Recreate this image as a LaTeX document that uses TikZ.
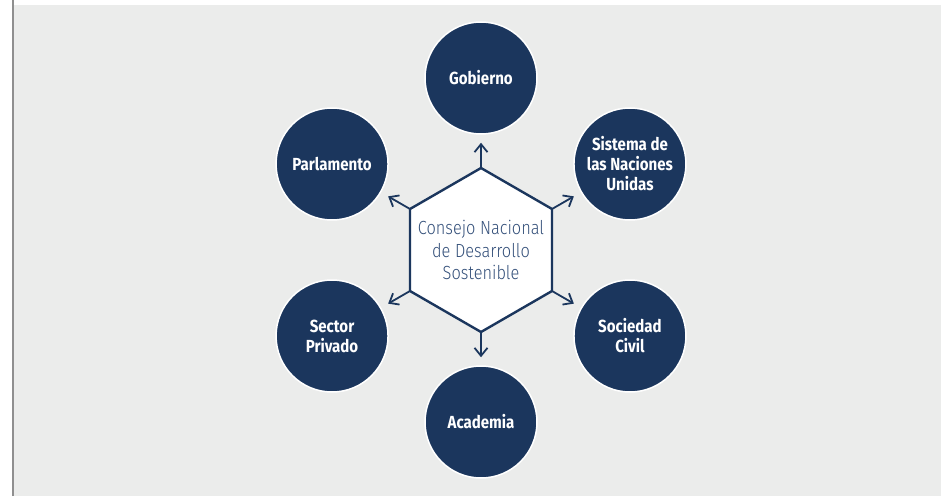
\documentclass[tikz,border=0pt]{standalone}
\usepackage{fontspec}
\newfontfamily\condfont{Fira Sans}[FakeStretch=0.86]
\newfontfamily\condlightfont{Fira Sans Light}[FakeStretch=0.86]
\usetikzlibrary{shapes.geometric,arrows.meta}
\definecolor{navy}{HTML}{1B365D}
\definecolor{councilblue}{HTML}{34507A}
\definecolor{panel}{HTML}{EBECEB}
\definecolor{rule}{HTML}{8F8F8F}
\tikzset{
  actor/.style={circle,fill=navy,draw=white,line width=1.5pt,minimum size=112pt,
    inner sep=0pt,align=center,text=white,
    font=\condfont\bfseries\fontsize{17.5}{20}\selectfont},
  council/.style={regular polygon,regular polygon sides=6,shape border rotate=30,
    minimum size=164pt,inner sep=0pt,outer sep=0pt,fill=white,draw=navy,
    line width=2.4pt},
  councillabel/.style={align=center,text=councilblue,inner sep=0pt,
    font=\condlightfont\fontsize{19}{22.5}\selectfont},
  link/.style={-{Straight Barb[length=8pt,width=13pt]},draw=navy,
    line width=1.8pt,shorten >=8pt}
}
\begin{document}
\begin{tikzpicture}[x=1pt,y=1pt]
  \useasboundingbox (0,0) rectangle (941,496);
  \fill[panel] (14,0) rectangle (941,491);
  \draw[rule,line width=1.6pt] (13,0) -- (13,496);
  \begin{scope}[shift={(481,246)}]
    \node[council] (cnds) at (0,0) {};
    \node[councillabel] (cndstext) at (cnds.center) {Consejo Nacional\\de Desarrollo\\Sostenible};
    \draw
      (90:172) node[actor] (gob){Gobierno}
      (30:172) node[actor] (onu){Sistema de\\las Naciones\\Unidas}
      (-30:172) node[actor] (civ){Sociedad\\Civil}
      (-90:172) node[actor] (aca){Academia}
      (-150:172) node[actor] (priv){Sector\\Privado}
      (150:172) node[actor] (parl){Parlamento};
    \begin{scope}[link]
      \draw (cnds.90) to (gob);
      \draw (cnds.30) to (onu);
      \draw (cnds.-30) to (civ);
      \draw (cnds.-90) to (aca);
      \draw (cnds.-150) to (priv);
      \draw (cnds.150) to (parl);
    \end{scope}
  \end{scope}
\end{tikzpicture}
\end{document}
